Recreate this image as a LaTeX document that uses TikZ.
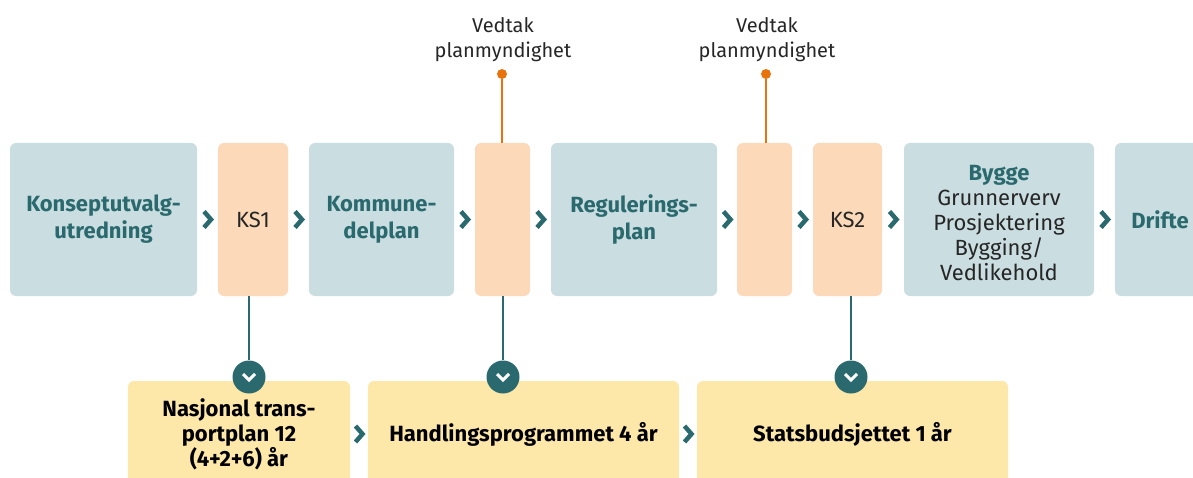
\documentclass[tikz,border=0pt]{standalone}
\usepackage{fontspec}
\setmainfont{Fira Sans}
\usepackage{tikz}
\usetikzlibrary{calc}
\definecolor{fasegraa}{HTML}{CADDE0}
\definecolor{kspeach}{HTML}{FCD9B8}
\definecolor{budsjgul}{HTML}{FDE8AA}
\definecolor{petrol}{HTML}{2A6A6E}
\definecolor{vedtakoransje}{HTML}{E8730C}

\begin{document}
\begin{tikzpicture}
  [x=1pt,y=-1pt,every node/.style={rectangle,rounded corners=6pt,inner sep=0pt,align=center,
    font=\fontsize{22}{26}\selectfont},
   fase/.style={fill=fasegraa,minimum height=153pt,text=petrol,font=\fontsize{22}{27}\selectfont\bfseries},
   ks/.style={fill=kspeach,minimum height=153pt,text=black!85},
   budsjett/.style={fill=budsjgul,minimum height=106pt,text=black,font=\fontsize{22}{25}\selectfont\bfseries},
   knapp/.style={circle,fill=petrol,minimum size=33pt},
   prikk/.style={circle,fill=vedtakoransje,minimum size=10pt},
   vedtak/.style={text=black!85,font=\fontsize{20}{25}\selectfont},
   chev/.style={petrol,line width=4.5pt},
   kobling/.style={petrol,line width=2pt}]
  \useasboundingbox (0,0) rectangle (1193,478);

  % hovedfaser
  \node[fase,minimum width=187pt] (konsept) at (103.5,219.5) {Konseptutvalg-\\utredning};
  \node[ks,minimum width=70pt] (ks1) at (253,219.5) {KS1};
  \node[fase,minimum width=145pt] (kdp) at (381.5,219.5) {Kommune-\\delplan};
  \node[ks,minimum width=55pt] (vedt1) at (502.5,219.5) {};
  \node[fase,minimum width=166pt] (reg) at (634,219.5) {Regulerings-\\plan};
  \node[ks,minimum width=55pt] (vedt2) at (764.5,219.5) {};
  \node[ks,minimum width=69pt] (ks2) at (847.5,219.5) {KS2};
  \node[fase,minimum width=190pt,text=black!85] (bygge) at (999,219.5) {};
  \node[font=\fontsize{22}{25}\selectfont,text=black!85] (byggetxt) at (999,223)
    {\textcolor{petrol}{\bfseries Bygge}\\Grunnerverv\\Prosjektering\\Bygging/\\Vedlikehold};
  \node[fase,minimum width=90pt] (drifte) at (1160,219.5) {Drifte};

  % vedtak
  \node[prikk] (p1) at (502,74) {};
  \node[prikk] (p2) at (766,74) {};
  \node[vedtak] (t1) at (503,40) {Vedtak\\planmyndighet};
  \node[vedtak] (t2) at (767,40) {Vedtak\\planmyndighet};
  \draw[vedtakoransje,line width=2.5pt] (p1) -- (vedt1.north -| p1);
  \draw[vedtakoransje,line width=2.5pt] (p2) -- (vedt2.north -| p2);

  % budsjett
  \node[budsjett,minimum width=222pt] (ntp) at (239,434) {Nasjonal trans-\\portplan 12\\(4+2+6) år};
  \node[budsjett,minimum width=311pt] (hp) at (523.5,434) {Handlingsprogrammet 4 år};
  \node[budsjett,minimum width=311pt] (sb) at (852.5,434) {Statsbudsjettet 1 år};

  \node[knapp] (k1) at (249,377) {};
  \node[knapp] (k2) at (503,377) {};
  \node[knapp] (k3) at (851,377) {};

  \foreach \from/\to in {ks1/k1,vedt1/k2,ks2/k3}
    \draw[kobling] (\from.south -| \to) -- (\to);

  \foreach \k in {k1,k2,k3}
    \draw[white,line width=3pt] ($(\k)+(-6,-3)$) -- ++(6,6) -- ++(6,-6);

  \foreach \from/\to in {konsept/ks1,ks1/kdp,kdp/vedt1,vedt1/reg,reg/vedt2,vedt2/ks2,ks2/bygge,bygge/drifte,ntp/hp,hp/sb}
    \draw[chev] ($(\from.east)!0.5!(\to.west)$) ++(-3.5,-8) -- ++(7,8) -- ++(-7,8);

\end{tikzpicture}
\end{document}
